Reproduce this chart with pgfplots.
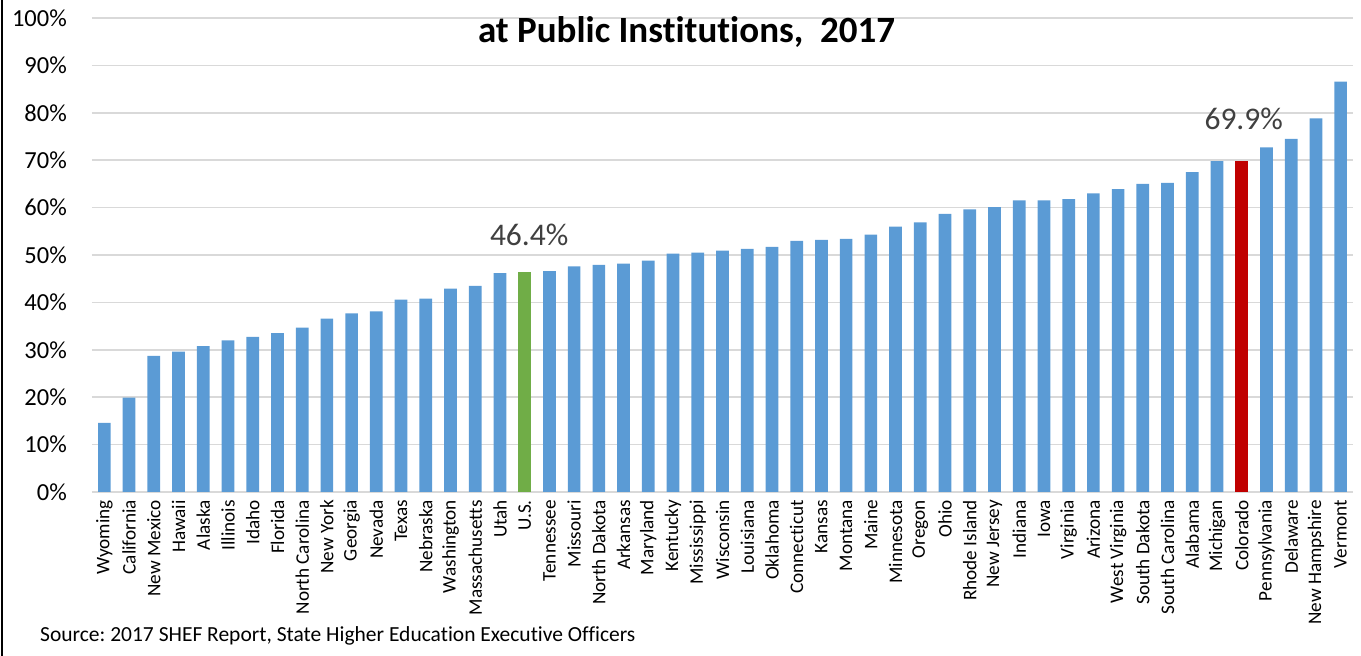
\documentclass[border=0pt]{standalone}
\usepackage{pgfplots}
\pgfplotsset{compat=1.18}
\usepackage{fontspec}
\setmainfont{Carlito}[Ligatures=NoCommon]
\definecolor{barblue}{HTML}{5B9BD5}
\definecolor{bargreen}{HTML}{70AD47}
\definecolor{barred}{HTML}{C00000}
\definecolor{gridgray}{HTML}{D9D9D9}
\definecolor{labelgray}{HTML}{404040}
\frenchspacing
\begin{document}
\begin{tikzpicture}[x=1pt,y=1pt]
\useasboundingbox (0,0) rectangle (1361,656);
\draw[black, line width=2pt] (1.5,0) -- (1.5,656);
\begin{axis}[
  at={(92pt,164pt)}, anchor=south west,
  scale only axis, width=1261pt, height=474pt,
  xmin=-0.5, xmax=50.5, ymin=0, ymax=100,
  ybar, bar width=12.7pt, bar shift=0pt,
  axis line style={draw=none},
  major tick length=0pt,
  ymajorgrids, grid style={gridgray, line width=1.5pt},
  ytick={0,10,...,100},
  yticklabel={\pgfmathprintnumber{\tick}\%},
  /pgf/number format/assume math mode=true,
  yticklabel style={font=\fontsize{24.5}{28}\selectfont, inner sep=0pt},
  yticklabel shift=25pt,
  xtick={0,...,50},
  xticklabels={Wyoming,California,New Mexico,Hawaii,Alaska,Illinois,Idaho,Florida,North Carolina,New York,Georgia,Nevada,Texas,Nebraska,Washington,Massachusetts,Utah,U.S.,Tennessee,Missouri,North Dakota,Arkansas,Maryland,Kentucky,Mississippi,Wisconsin,Louisiana,Oklahoma,Connecticut,Kansas,Montana,Maine,Minnesota,Oregon,Ohio,Rhode Island,New Jersey,Indiana,Iowa,Virginia,Arizona,West Virginia,South Dakota,South Carolina,Alabama,Michigan,Colorado,Pennsylvania,Delaware,New Hampshire,Vermont},
  xticklabel style={rotate=90, anchor=east, font=\fontsize{19.2}{22}\selectfont, inner sep=0pt},
  xticklabel shift=8pt,
  clip=false,
]
\addplot[fill=barblue, draw=none] coordinates {
(0,14.6) (1,19.9) (2,28.7) (3,29.6) (4,30.8) (5,32.0) (6,32.7) (7,33.5) (8,34.7) (9,36.6)
(10,37.7) (11,38.1) (12,40.6) (13,40.8) (14,42.9) (15,43.5) (16,46.2)
(18,46.6) (19,47.6) (20,47.9) (21,48.2) (22,48.8) (23,50.3) (24,50.5) (25,50.9)
(26,51.3) (27,51.7) (28,53.0) (29,53.2) (30,53.4) (31,54.3) (32,56.0) (33,56.9) (34,58.7)
(35,59.6) (36,60.1) (37,61.5) (38,61.5) (39,61.8) (40,63.0) (41,63.9) (42,65.0) (43,65.2)
(44,67.5) (45,69.8) (47,72.7) (48,74.5) (49,78.8) (50,86.6)
};
\addplot[fill=bargreen, draw=none,
  nodes near coords={\pgfmathprintnumber[fixed,fixed zerofill,precision=1]{\pgfplotspointmeta}\%},
  nodes near coords style={font=\fontsize{31.5}{36}\selectfont, text=labelgray, anchor=base, inner sep=0pt, yshift=27pt, xshift=4.5pt}]
  coordinates {(17,46.4)};
\addplot[fill=barred, draw=none,
  nodes near coords={\pgfmathprintnumber[fixed,fixed zerofill,precision=1]{\pgfplotspointmeta}\%},
  nodes near coords style={font=\fontsize{31.5}{36}\selectfont, text=labelgray, anchor=base, inner sep=0pt, yshift=31.4pt, xshift=2pt}]
  coordinates {(46,69.9)};
\end{axis}
\node[font=\bfseries\fontsize{37}{42}\selectfont, anchor=base, inner sep=0pt] at (686.5,613.3) {at Public Institutions,~~2017};
\node[font=\fontsize{21.5}{24}\selectfont, anchor=base west, inner sep=0pt] at (40,14) {Source: 2017 SHEF Report, State Higher Education Executive Officers};
\end{tikzpicture}
\end{document}
